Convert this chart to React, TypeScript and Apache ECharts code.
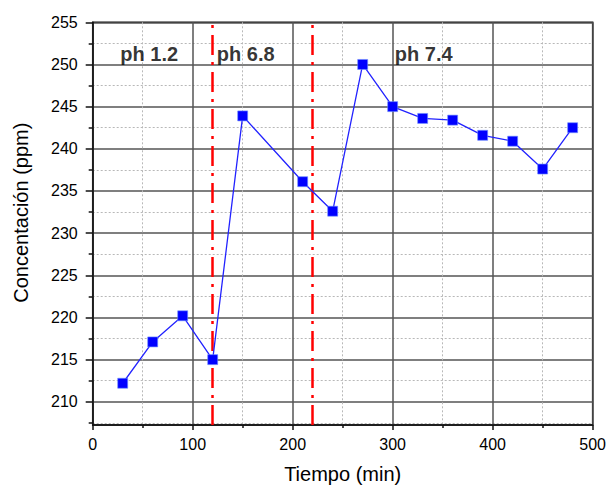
import React, { useEffect, useRef } from "react";
import * as echarts from "echarts";

const timeMin = [30, 60, 90, 120, 150, 210, 240, 270, 300, 330, 360, 390, 420, 450, 480];
const concentration = [212.2, 217.1, 220.2, 215.0, 243.9, 236.1, 232.6, 250.0, 245.0, 243.6, 243.4, 241.6, 240.9, 237.6, 242.5];
const phChangeTimes = [120, 220];
const phLabels = ["ph 1.2", "ph 6.8", "ph 7.4"];
const phLabelX = [56.5, 153, 331];
const phLabelY = [251.3, 251.3, 251.3];
const yMajorTicks = [210, 215, 220, 225, 230, 235, 240, 245, 250, 255];
const yMinorTicks = [207.5, 212.5, 217.5, 222.5, 227.5, 232.5, 237.5, 242.5, 247.5, 252.5];
const yMin = 207.25;
const yMax = 255;

const FONT = '"Liberation Sans", Arial, sans-serif';

export default function App() {
  const ref = useRef<HTMLDivElement>(null);
  useEffect(() => {
    if (!ref.current) return;
    const chart = echarts.init(ref.current, undefined, { renderer: "svg" });
    const option: any = {
      animation: false,
      backgroundColor: "#ffffff",
      textStyle: { fontFamily: FONT },
      grid: {
        left: 92.7,
        right: 13.3,
        top: 22.3,
        bottom: 61.7,
        show: true,
        borderColor: "#111",
        borderWidth: 1.5,
        backgroundColor: "transparent",
      },
      xAxis: {
        type: "value",
        min: 0,
        max: 500,
        interval: 100,
        name: "Tiempo (min)",
        nameLocation: "middle",
        nameGap: 39,
        nameTextStyle: { fontSize: 20, color: "#000", fontFamily: FONT },
        axisLine: { show: true, lineStyle: { color: "#111", width: 1.5 } },
        axisTick: { show: true, inside: false, length: 5, lineStyle: { color: "#111", width: 1.5 } },
        minorTick: { show: true, splitNumber: 2, length: 3, lineStyle: { color: "#111", width: 1.5 } },
        axisLabel: { fontSize: 16, color: "#000", margin: 11, fontFamily: FONT },
        splitLine: { show: true, lineStyle: { color: "#555", width: 1.5, type: "solid" } },
        minorSplitLine: { show: true, lineStyle: { color: "#b8b8b8", width: 1, type: [2, 2] } },
      },
      yAxis: [
        {
          type: "value",
          min: yMin,
          max: yMax,
          position: "left",
          name: "Concentación (ppm)",
          nameLocation: "middle",
          nameGap: 62,
          nameTextStyle: { fontSize: 20, color: "#000", fontFamily: FONT, padding: [0, 0, 0, 22] },
          axisLine: { show: true, lineStyle: { color: "#111", width: 1.5 } },
          axisTick: { show: true, inside: false, length: 7, customValues: yMajorTicks, lineStyle: { color: "#111", width: 1.5 } },
          axisLabel: { fontSize: 16, color: "#000", margin: 15, customValues: yMajorTicks, fontFamily: FONT },
          splitLine: { show: true, lineStyle: { color: "#555", width: 1.5, type: "solid" } },
        },
        {
          type: "value",
          min: yMin,
          max: yMax,
          position: "left",
          offset: 0,
          axisLine: { show: false },
          axisTick: { show: true, inside: false, length: 4, customValues: yMinorTicks, lineStyle: { color: "#111", width: 1.5 } },
          axisLabel: { show: false, customValues: yMinorTicks },
          splitLine: { show: true, lineStyle: { color: "#b8b8b8", width: 1, type: [2, 2] } },
        },
      ],
      series: [
        {
          type: "line",
          yAxisIndex: 0,
          data: timeMin.map((t, i) => [t, concentration[i]]),
          symbol: "rect",
          symbolSize: 10,
          lineStyle: { color: "#2222ff", width: 1.3 },
          itemStyle: { color: "#0000ff", borderColor: "#6f8fff", borderWidth: 0.6 },
          z: 5,
          markLine: {
            silent: true,
            symbol: ["none", "none"],
            label: { show: false },
            lineStyle: { color: "#ff0000", width: 2.5, type: [20, 7, 3, 7] },
            data: phChangeTimes.map((x) => ({ xAxis: x })),
          },
        },
        {
          type: "scatter",
          yAxisIndex: 0,
          symbolSize: 0,
          silent: true,
          z: 6,
          data: phLabelX.map((x, i) => ({ value: [x, phLabelY[i]], name: phLabels[i] })),
          label: {
            show: true,
            position: "inside",
            formatter: "{b}",
            fontSize: 20,
            fontWeight: "bold",
            color: "#000",
            fontFamily: FONT,
          },
        },
      ],
    };
    chart.setOption(option);
    return () => chart.dispose();
  }, []);
  return (
    <div
      ref={ref}
      style={{ position: "fixed", left: 0, top: 0, width: 609, height: 489, background: "#fff" }}
    />
  );
}
